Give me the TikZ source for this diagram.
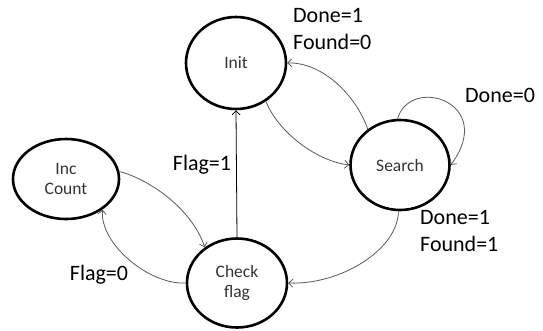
\documentclass[tikz,border=0pt]{standalone}
\usepackage{fontspec}
\setmainfont{Carlito}
\usetikzlibrary{shapes.geometric,arrows.meta}

\tikzset{
  state/.style={ellipse, draw=black, line width=2.6pt, inner sep=0pt,
    minimum width=100pt, minimum height=92pt, align=center,
    text=black!80, font=\fontsize{17.5}{20}\selectfont},
  trans/.style={draw=black!65, line width=0.8pt,
    -{Straight Barb[length=4pt,width=8pt,line width=0.8pt]}},
  cond/.style={inner sep=0pt, text=black, font=\fontsize{22}{26}\selectfont}
}

\begin{document}
\begin{tikzpicture}[x=1pt, y=-1pt]
  \useasboundingbox (0,0) rectangle (543,330);

  % states
  \node[state] (init)   at (236,63)  {Init};
  \node[state, minimum width=99pt, minimum height=90pt] (search) at (400,165) {Search};
  \node[state, minimum width=106pt, minimum height=80pt] (inc) at (66,179) {Inc\\Count};
  \node[state, minimum height=89pt] (check)  at (237,283) {Check\\flag};

  % transitions
  \draw[trans] (init.-52) .. controls (276,128) and (312,160) .. (search.west);
  \draw[trans] (search.132) .. controls (356,95) and (322,62) .. (init.east);
  \draw[trans] (search.93) .. controls (410,75) and (497,102) .. (search.east);
  \draw[trans] (search.-92) .. controls (398,250) and (340,285) .. (check.east);
  \draw[trans, draw=black] (check.north) -- (init.south);
  \draw[trans] (inc.8) .. controls (145,178) and (190,205) .. (check.132);
  \draw[trans] (check.west) .. controls (150,285) and (100,245) .. (inc.-40);

  % conditions
  \node[cond, anchor=base west] (l1a) at (293,22)  {Done=1};
  \node[cond, anchor=base west] (l1b) at (293,49)  {Found=0};
  \node[cond, anchor=base west] (l2)  at (465,102) {Done=0};
  \node[cond, anchor=base west] (l3a) at (420,224) {Done=1};
  \node[cond, anchor=base west] (l3b) at (420,251) {Found=1};
  \node[cond, anchor=base]      (l4)  at (202,170) {Flag=1};
  \node[cond, anchor=base]      (l5)  at (99,280)  {Flag=0};
\end{tikzpicture}
\end{document}
